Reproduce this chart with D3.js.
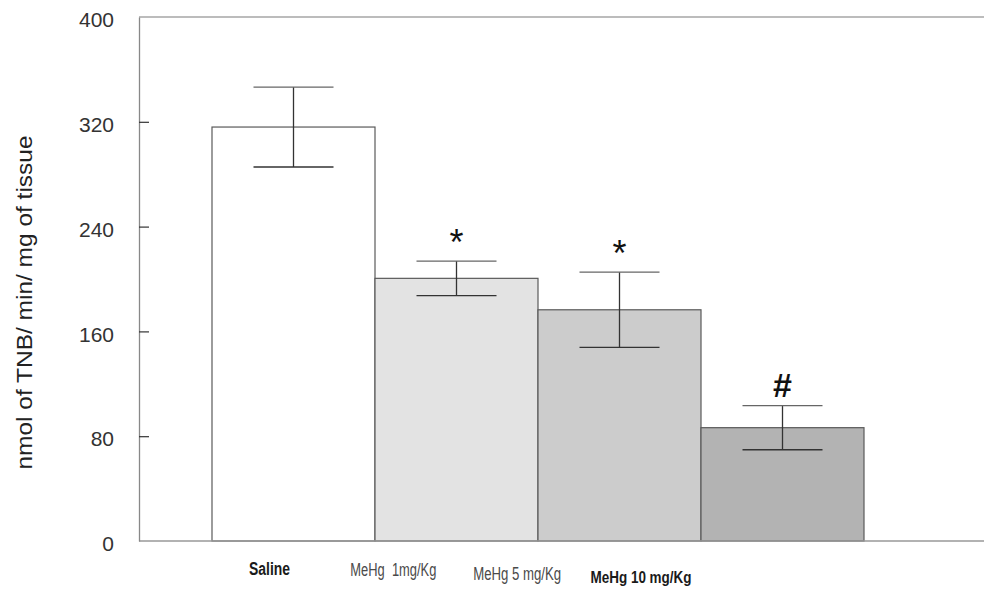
<!DOCTYPE html>
<html>
<head>
<meta charset="utf-8">
<script src="https://cdn.jsdelivr.net/npm/d3@7"></script>
<style>
  body { margin: 0; background: #fff; }
  svg { display: block; font-family: "Liberation Sans", Arial, sans-serif; }
</style>
</head>
<body>
<svg id="chart" width="984" height="590"></svg>
<script>
// GST activity by treatment group (mean ± SEM)
const categories = ["Saline", "MeHg  1mg/Kg", "MeHg 5 mg/Kg", "MeHg 10 mg/Kg"];
const means = [316, 200.5, 176.5, 86.5];
const errors = [30.5, 13.2, 28.7, 16.8];
const marks = ["", "*", "*", "#"];
const yTicks = [0, 80, 160, 240, 320, 400];

const fills = ["#ffffff", "#e3e3e3", "#cccccc", "#b3b3b3"];
const labelStyle = [
  { weight: "bold", size: 18, fill: "#1a1a1a", len: 41, base: 575 },
  { weight: "normal", size: 17.5, fill: "#4a4a4a", len: 86, base: 576 },
  { weight: "normal", size: 17.5, fill: "#4a4a4a", len: 88, base: 580 },
  { weight: "bold", size: 17, fill: "#1a1a1a", len: 101, base: 583 }
];

const svg = d3.select("#chart");
const plotLeft = 139, plotRight = 984, plotTop = 17, plotBottom = 541;

const y = d3.scaleLinear().domain([0, 400]).range([plotBottom, plotTop]);
const x = d3.scaleBand().domain(categories).range([212, 864]).padding(0);
const xLabel = d3.scalePoint().domain(categories).range([269.5, 641]);

// top frame line
svg.append("line").attr("x1", plotLeft).attr("x2", plotRight)
  .attr("y1", y(400)).attr("y2", y(400))
  .attr("stroke", "#a6a6a6").attr("stroke-width", 1.6);

// bars
svg.append("g").selectAll("rect").data(categories).join("rect")
  .attr("x", d => x(d))
  .attr("y", (d, i) => y(means[i]))
  .attr("width", x.bandwidth())
  .attr("height", (d, i) => y(0) - y(means[i]))
  .attr("fill", (d, i) => fills[i])
  .attr("stroke", "#5a5a5a")
  .attr("stroke-width", 1.2);

// baseline
svg.append("line").attr("x1", plotLeft).attr("x2", plotRight)
  .attr("y1", y(0)).attr("y2", y(0))
  .attr("stroke", "#999").attr("stroke-width", 1.6);

// y axis with inward ticks
const yAxis = d3.axisLeft(y).tickValues(yTicks)
  .tickSizeInner(-10).tickSizeOuter(0).tickPadding(25);
const ga = svg.append("g").attr("transform", `translate(${plotLeft},0)`).call(yAxis);
ga.select(".domain").attr("stroke", "#888").attr("stroke-width", 1.3);
ga.selectAll(".tick line").attr("stroke", "#333").attr("stroke-width", 1.2)
  .filter(d => d === 0 || d === 400).remove();
ga.selectAll(".tick text")
  .attr("font-size", 21).attr("fill", "#333")
  .attr("font-family", "Liberation Sans, Arial, sans-serif")
  .attr("dy", "0.46em");

// error bars
const eb = svg.append("g").selectAll("g").data(categories).join("g");
const cx = d => x(d) + x.bandwidth() / 2;
const cap = 40;
eb.append("line")
  .attr("x1", cx).attr("x2", cx)
  .attr("y1", (d, i) => y(means[i] + errors[i]))
  .attr("y2", (d, i) => y(means[i] - errors[i]))
  .attr("stroke", "#333").attr("stroke-width", 1.3);
eb.append("line")
  .attr("x1", d => cx(d) - cap).attr("x2", d => cx(d) + cap)
  .attr("y1", (d, i) => y(means[i] + errors[i]))
  .attr("y2", (d, i) => y(means[i] + errors[i]))
  .attr("stroke", "#666").attr("stroke-width", 1.3);
eb.append("line")
  .attr("x1", d => cx(d) - cap).attr("x2", d => cx(d) + cap)
  .attr("y1", (d, i) => y(means[i] - errors[i]))
  .attr("y2", (d, i) => y(means[i] - errors[i]))
  .attr("stroke", "#333").attr("stroke-width", 1.4);

// significance marks
svg.append("g").selectAll("text").data(categories).join("text")
  .attr("x", cx)
  .attr("y", (d, i) => y(means[i] + errors[i]) - (marks[i] === "#" ? 9 : 6))
  .attr("text-anchor", "middle")
  .attr("font-size", (d, i) => marks[i] === "#" ? 34 : 36)
  .attr("font-weight", (d, i) => marks[i] === "#" ? "bold" : "normal")
  .attr("fill", "#111")
  .text((d, i) => marks[i]);

// category labels
svg.append("g").selectAll("text").data(categories).join("text")
  .attr("x", d => xLabel(d))
  .attr("y", (d, i) => labelStyle[i].base)
  .attr("text-anchor", "middle")
  .attr("font-size", (d, i) => labelStyle[i].size)
  .attr("font-weight", (d, i) => labelStyle[i].weight)
  .attr("fill", (d, i) => labelStyle[i].fill)
  .attr("textLength", (d, i) => labelStyle[i].len)
  .attr("lengthAdjust", "spacingAndGlyphs")
  .style("white-space", "pre")
  .text(d => d);

// y axis title
svg.append("text")
  .attr("transform", "translate(32,302.5) rotate(-90)")
  .attr("text-anchor", "middle")
  .attr("font-size", 22)
  .attr("fill", "#222")
  .attr("textLength", 334)
  .attr("lengthAdjust", "spacingAndGlyphs")
  .text("nmol of TNB/ min/ mg of tissue");
</script>
</body>
</html>
